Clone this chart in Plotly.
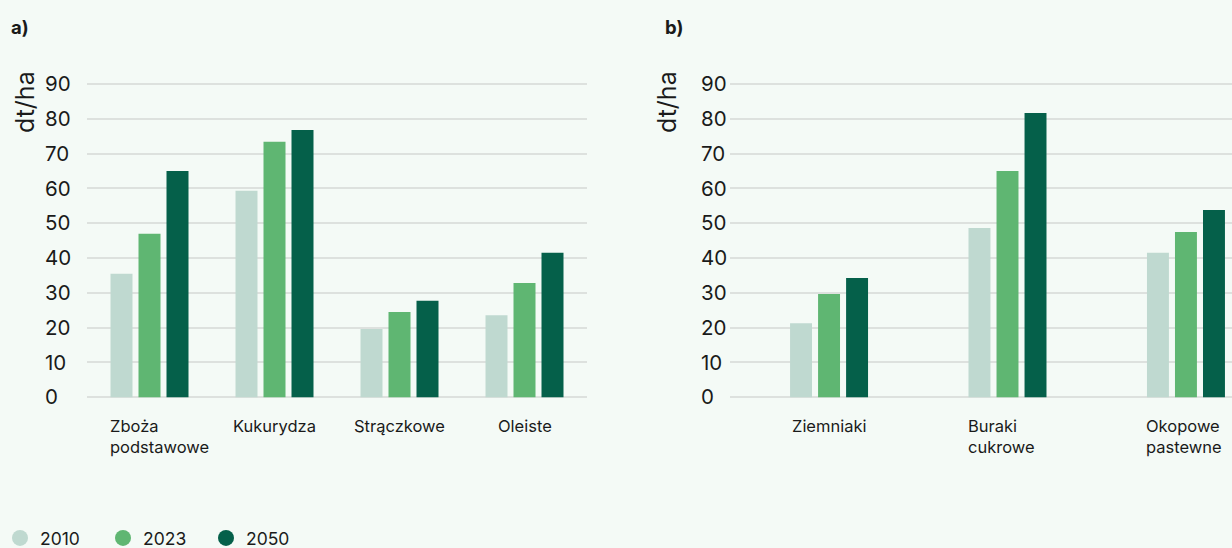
import plotly.graph_objects as go

# Plony (dt/ha) – uprawy polowe (a) i okopowe (b)
years = ["2010", "2023", "2050"]
colors = ["#bfd9d0", "#5fb672", "#05604a"]

crops_a = ["Zboża<br>podstawowe", "Kukurydza", "Strączkowe", "Oleiste"]
vals_a_2010 = [35.5, 59.3, 19.6, 23.6]
vals_a_2023 = [47.0, 73.4, 24.5, 32.8]
vals_a_2050 = [65.0, 76.8, 27.7, 41.5]

crops_b = ["Ziemniaki", "Buraki<br>cukrowe", "Okopowe<br>pastewne"]
vals_b_2010 = [21.3, 48.6, 41.5]
vals_b_2023 = [29.7, 65.0, 47.5]
vals_b_2050 = [34.3, 81.7, 53.8]

y_ticks = [0, 10, 20, 30, 40, 50, 60, 70, 80, 90]

series_a = [vals_a_2010, vals_a_2023, vals_a_2050]
series_b = [vals_b_2010, vals_b_2023, vals_b_2050]

BG = "#f4faf6"
GRID = "#dde1de"
TXT = "#1a1a1a"
FONT = "Inter, Lato, sans-serif"

W, H = 1232, 548

# vertical placement: value 0 at 397 px, value 90 at 84 px from the top
Y0_PX, Y90_PX = 397.3, 84.0
PX_PER_UNIT = (Y0_PX - Y90_PX) / 90.0


def y_paper(px):
    return 1 - px / H


def y_domain(lo, hi):
    return [y_paper(Y0_PX - lo * PX_PER_UNIT), y_paper(Y0_PX - hi * PX_PER_UNIT)]


fig = go.Figure()

# bar geometry in category units for each panel
panels = [
    dict(cats=crops_a, series=series_a, xa="x", ya="y", width=0.176, step=0.224, px=125),
    dict(cats=crops_b, series=series_b, xa="x2", ya="y2", width=0.123, step=0.157, px=178.5),
]

for p in panels:
    for i, (yr, col, vals) in enumerate(zip(years, colors, p["series"])):
        fig.add_trace(go.Bar(
            x=p["cats"], y=vals, name=yr,
            marker=dict(color=col, line=dict(width=0)),
            width=p["width"], offset=(i - 1) * p["step"] - p["width"] / 2,
            xaxis=p["xa"], yaxis=p["ya"], showlegend=False,
            hovertemplate="%{x}: %{y} dt/ha<extra>" + yr + "</extra>",
        ))

# legend entries with round markers (no data; they also carry the
# left-aligned tick-label axes)
for k, (yr, col) in enumerate(zip(years, colors)):
    fig.add_trace(go.Scatter(
        x=[None], y=[None], mode="markers", name=yr,
        marker=dict(symbol="circle", size=19, color=col),
        xaxis="x" if k < 2 else "x2", yaxis="y3" if k < 2 else "y4",
        showlegend=True, hoverinfo="skip",
    ))

# category labels under each bar group
annotations = []
for p in panels:
    half = p["step"] + p["width"] / 2
    for c in p["cats"]:
        multi = "<br>" in c
        annotations.append(dict(
            x=c, y=0, xref=p["xa"], yref=p["ya"],
            text=c, showarrow=False,
            xanchor="left" if multi else "center",
            align="left", yanchor="top", yshift=-17,
            xshift=(-int(half * p["px"]) - 3) if multi else 0,
            font=dict(family=FONT, size=16.5, color=TXT),
        ))

# panel letters and axis units
for txt, xp in [("a)", 9 / W), ("b)", 663 / W)]:
    annotations.append(dict(
        x=xp, y=y_paper(27), xref="paper", yref="paper", text="<b>" + txt + "</b>",
        showarrow=False, xanchor="left", yanchor="middle",
        font=dict(family=FONT, size=18.5, color=TXT),
    ))
for xp in [25 / W, 667 / W]:
    annotations.append(dict(
        x=xp, y=y_paper(102), xref="paper", yref="paper", text="dt/ha",
        textangle=-90, showarrow=False, xanchor="center", yanchor="middle",
        font=dict(family=FONT, size=25, color=TXT),
    ))

GRID_RANGE = [-1, 91]
LABEL_RANGE = [-8, 98]
grid_axis = dict(
    range=GRID_RANGE, tickvals=y_ticks, showgrid=True, gridcolor=GRID, gridwidth=1.5,
    zeroline=False, showline=False, ticks="", fixedrange=True,
    showticklabels=False, automargin=False, domain=y_domain(*GRID_RANGE),
)
label_axis = dict(
    range=LABEL_RANGE, tickvals=y_ticks, showgrid=False, zeroline=False,
    showline=False, ticks="", fixedrange=True, automargin=False,
    anchor="free", side="left", ticklabelposition="inside",
    domain=y_domain(*LABEL_RANGE),
    tickfont=dict(family=FONT, size=20.5, color=TXT),
)
xaxis_common = dict(showgrid=False, zeroline=False, showline=False,
                    showticklabels=False, ticks="", fixedrange=True,
                    automargin=False, type="category")

fig.update_layout(
    width=W, height=H, autosize=False,
    margin=dict(l=0, r=0, t=0, b=0, pad=0, autoexpand=False),
    paper_bgcolor=BG, plot_bgcolor="rgba(0,0,0,0)",
    barmode="overlay",
    font=dict(family=FONT, color=TXT),
    xaxis=dict(**xaxis_common, domain=[87 / W, 587 / W], range=[-0.5, 3.5], anchor="y"),
    yaxis=dict(**grid_axis, anchor="x"),
    xaxis2=dict(**xaxis_common, domain=[730 / W, 1.0], range=[-0.555, 2.258], anchor="y2"),
    yaxis2=dict(**grid_axis, anchor="x2"),
    yaxis3=dict(**label_axis, position=41 / W),
    yaxis4=dict(**label_axis, position=697 / W),
    legend=dict(orientation="h", xref="container", yref="container",
                x=-0.002, y=y_paper(538), xanchor="left", yanchor="middle",
                font=dict(family=FONT, size=17.5, color=TXT),
                entrywidth=58, itemsizing="trace", bgcolor="rgba(0,0,0,0)"),
    annotations=annotations,
    showlegend=True,
)

fig.write_html("out.html")
